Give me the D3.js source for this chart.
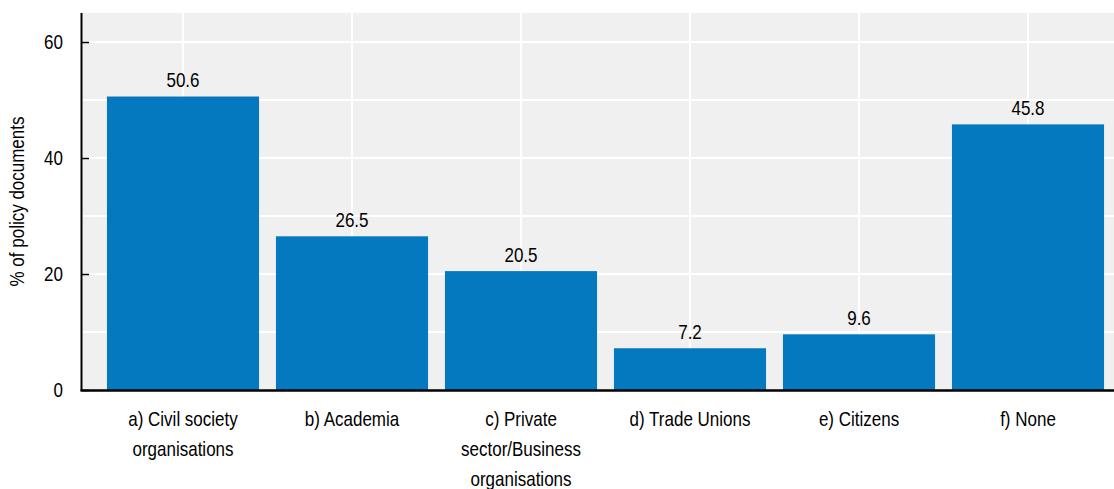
<!DOCTYPE html>
<html>
<head>
<meta charset="utf-8">
<script src="https://cdn.jsdelivr.net/npm/d3@7"></script>
<style>
  html, body { margin: 0; padding: 0; background: #ffffff; }
  svg { display: block; }
  text { font-family: "Liberation Sans", Arial, sans-serif; fill: #000; }
</style>
</head>
<body>
<svg id="chart" width="1114" height="489"></svg>
<script>
// Stakeholders consulted, share of policy documents
const categories = [
  "a) Civil society\norganisations",
  "b) Academia",
  "c) Private\nsector/Business\norganisations",
  "d) Trade Unions",
  "e) Citizens",
  "f) None"
];
const values = [50.6, 26.5, 20.5, 7.2, 9.6, 45.8];
const yTicks = [0, 20, 40, 60];
const yGrid = [10, 20, 30, 40, 50, 60];
const yTitle = "% of policy documents";

const plot = { left: 82, right: 1114, top: 13, bottom: 390 };
const barColor = "#0479c0";
const panelColor = "#f0f0f0";
const FS = 20;          // font size
const SQ = 0.85;        // horizontal condensing of the labels

const svg = d3.select("#chart");

const x = d3.scaleBand()
  .domain(categories)
  .range([98.5, 1112.5])
  .paddingInner(0.1)
  .paddingOuter(0.05);

const y = d3.scaleLinear()
  .domain([0, 65])
  .range([plot.bottom, plot.top]);

// panel background
svg.append("rect")
  .attr("x", plot.left).attr("y", plot.top)
  .attr("width", plot.right - plot.left)
  .attr("height", plot.bottom - plot.top)
  .attr("fill", panelColor);

// gridlines
const grid = svg.append("g").attr("stroke", "#ffffff").attr("stroke-width", 2);
grid.selectAll("line.h").data(yGrid).join("line")
  .attr("class", "h")
  .attr("x1", plot.left).attr("x2", plot.right)
  .attr("y1", d => y(d)).attr("y2", d => y(d));
grid.selectAll("line.v").data(categories).join("line")
  .attr("class", "v")
  .attr("x1", d => x(d) + x.bandwidth() / 2).attr("x2", d => x(d) + x.bandwidth() / 2)
  .attr("y1", plot.top).attr("y2", plot.bottom);

// bars
svg.append("g").selectAll("rect").data(values).join("rect")
  .attr("x", (d, i) => x(categories[i]))
  .attr("width", x.bandwidth())
  .attr("y", d => y(d))
  .attr("height", d => y(0) - y(d))
  .attr("fill", barColor);

// value labels
svg.append("g").selectAll("text").data(values).join("text")
  .attr("transform", (d, i) => `translate(${x(categories[i]) + x.bandwidth() / 2},${y(d) - 9.5}) scale(${SQ},1)`)
  .attr("text-anchor", "middle")
  .attr("font-size", FS)
  .text(d => d.toFixed(1));

// y axis ticks and labels
const yAxis = svg.append("g")
  .attr("transform", `translate(${plot.left},0)`)
  .attr("font-family", null)
  .call(d3.axisLeft(y).tickValues(yTicks).tickSize(-7).tickPadding(19).tickFormat(d3.format("d")));
yAxis.attr("font-family", null).attr("font-size", null);
yAxis.select(".domain").remove();
yAxis.selectAll(".tick line").attr("stroke", "#000").attr("stroke-width", 1.5);
yAxis.selectAll(".tick text")
  .attr("x", 0)
  .attr("transform", `translate(-19,0) scale(${SQ},1)`)
  .attr("font-size", FS)
  .attr("fill", "#000");

svg.append("line")
  .attr("x1", plot.left - 0.5).attr("x2", plot.left - 0.5)
  .attr("y1", plot.top).attr("y2", plot.bottom + 1)
  .attr("stroke", "#000").attr("stroke-width", 2);

// x axis
svg.append("line")
  .attr("x1", plot.left - 1.5).attr("x2", plot.right)
  .attr("y1", plot.bottom + 0.5).attr("y2", plot.bottom + 0.5)
  .attr("stroke", "#000").attr("stroke-width", 2.5);

const xLabels = svg.append("g").selectAll("text").data(categories).join("text")
  .attr("text-anchor", "middle")
  .attr("font-size", FS)
  .attr("transform", d => `translate(${x(d) + x.bandwidth() / 2},426) scale(${SQ},1)`);
xLabels.selectAll("tspan").data(d => d.split("\n")).join("tspan")
  .attr("x", 0)
  .attr("y", (d, i) => i * 30)
  .text(d => d);

// y title
svg.append("text")
  .attr("transform", `translate(24,${(plot.top + plot.bottom) / 2}) rotate(-90) scale(${SQ},1)`)
  .attr("text-anchor", "middle")
  .attr("font-size", FS)
  .text(yTitle);
</script>
</body>
</html>
